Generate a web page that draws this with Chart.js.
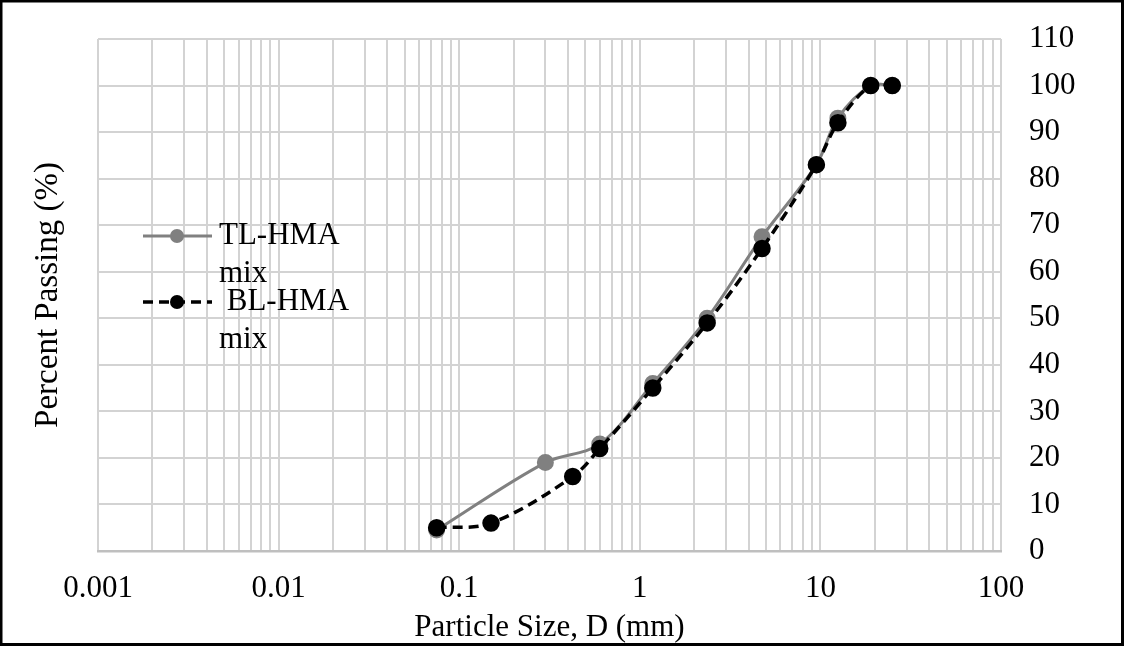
<!DOCTYPE html>
<html>
<head>
<meta charset="utf-8">
<script src="https://cdn.jsdelivr.net/npm/chart.js@4"></script>
<style>
  html, body { margin: 0; padding: 0; background: #fff; }
  #wrap { position: relative; width: 1128px; height: 646px; }
</style>
</head>
<body>
<div id="wrap"><canvas id="chart" width="1128" height="646"></canvas></div>
<script>
// sieve sizes (mm) and percent passing
const sizesTL = [0.075, 0.3, 0.6, 1.18, 2.36, 4.75, 9.5, 12.5, 19, 25];
const passTL  = [4.5, 19, 23, 36, 50, 67.5, 83, 93, 100, 100];
const sizesBL = [0.075, 0.15, 0.425, 0.6, 1.18, 2.36, 4.75, 9.5, 12.5, 19, 25];
const passBL  = [5, 6, 16, 22, 35, 49, 65, 83, 92, 100, 100];

const legendTL = ['TL-HMA', 'mix'];
const legendBL = [' BL-HMA', 'mix'];

const xMin = 0.001, xMax = 100;
const yMin = 0, yMax = 110, yStep = 10;

const FONT = '"Liberation Serif", "Times New Roman", serif';
const FS = 31;

function toPoints(xs, ys) {
    return xs.map((x, i) => ({ x: x, y: ys[i] }));
}

function isPow10(v) {
    const l = Math.log10(v);
    return Math.abs(l - Math.round(l)) < 1e-9;
}

// legend + y title + outer frame
const extras = {
    id: 'extras',
    afterDraw(chart) {
        const ctx = chart.ctx;
        ctx.save();
        ctx.font = FS + 'px ' + FONT;
        ctx.fillStyle = '#000';
        ctx.textBaseline = 'middle';

        // y title on the left
        const area = chart.chartArea;
        ctx.save();
        ctx.font = '33px ' + FONT;
        ctx.translate(48, (area.top + area.bottom) / 2);
        ctx.rotate(-Math.PI / 2);
        ctx.textAlign = 'center';
        ctx.fillText('Percent Passing (%)', 0, 0);
        ctx.restore();

        // legend
        const items = [
            { ds: chart.data.datasets[0], lines: legendTL, y: 236 },
            { ds: chart.data.datasets[1], lines: legendBL, y: 302 }
        ];
        items.forEach(it => {
            const ds = it.ds;
            ctx.save();
            ctx.strokeStyle = ds.borderColor;
            ctx.lineWidth = ds.borderWidth;
            ctx.setLineDash(ds.borderDash || []);
            ctx.beginPath();
            ctx.moveTo(143, it.y);
            ctx.lineTo(212, it.y);
            ctx.stroke();
            ctx.setLineDash([]);
            ctx.fillStyle = ds.pointBackgroundColor;
            ctx.beginPath();
            ctx.arc(177, it.y, ds.pointRadius, 0, Math.PI * 2);
            ctx.fill();
            ctx.restore();
            ctx.textAlign = 'left';
            it.lines.forEach((t, k) => ctx.fillText(t, 219, it.y + k * 38));
        });

        // outer frame
        ctx.fillStyle = '#000';
        ctx.fillRect(0, 0, 2.5, 646);
        ctx.fillRect(0, 0, 1124, 2.5);
        ctx.fillRect(1121, 0, 3, 646);
        ctx.fillRect(0, 643, 1124, 3);
        ctx.restore();
    }
};

const config = {
    type: 'scatter',
    data: {
        datasets: [
            {
                label: legendTL.join(' '),
                data: toPoints(sizesTL, passTL),
                showLine: true,
                borderColor: '#808080',
                backgroundColor: '#808080',
                pointBackgroundColor: '#808080',
                pointBorderColor: '#808080',
                borderWidth: 3,
                pointRadius: 7,
                tension: 0.35,
                order: 1
            },
            {
                label: legendBL.join(' '),
                data: toPoints(sizesBL, passBL),
                showLine: true,
                borderColor: '#000000',
                backgroundColor: '#000000',
                pointBackgroundColor: '#000000',
                pointBorderColor: '#000000',
                borderWidth: 3.5,
                borderDash: [10, 6],
                pointRadius: 7,
                tension: 0.35,
                order: 0
            }
        ]
    },
    options: {
        responsive: false,
        animation: false,
        layout: { padding: { left: 98, top: 39, right: 0, bottom: 0 } },
        plugins: {
            legend: { display: false },
            tooltip: { enabled: false }
        },
        scales: {
            x: {
                type: 'logarithmic',
                position: 'bottom',
                min: xMin,
                max: xMax,
                afterBuildTicks(scale) {
                    const t = [];
                    for (let d = xMin; d < xMax * 0.999; d *= 10) {
                        for (let m = 1; m <= 9; m++) t.push({ value: d * m });
                    }
                    t.push({ value: xMax });
                    scale.ticks = t;
                },
                afterFit(scale) { scale.height = 95; },
                grid: { color: '#d3d3d3', lineWidth: 2, drawTicks: false },
                border: { display: true, color: '#bfbfbf', width: 2.5 },
                ticks: {
                    autoSkip: false,
                    maxRotation: 0,
                    padding: 19,
                    color: '#000',
                    font: { family: FONT, size: FS },
                    callback: v => isPow10(v) ? String(Number(v.toPrecision(6))) : ''
                },
                title: {
                    display: true,
                    text: 'Particle Size, D (mm)',
                    color: '#000',
                    padding: { top: 0, bottom: 0 },
                    font: { family: FONT, size: FS }
                }
            },
            y: {
                position: 'right',
                min: yMin,
                max: yMax,
                afterFit(scale) { scale.width = 127; },
                // invisible tick marks push the labels right without adding top padding
                grid: { color: '#d3d3d3', lineWidth: 2, drawTicks: true, tickLength: 28, tickColor: 'rgba(0,0,0,0)' },
                border: { display: false },
                ticks: {
                    stepSize: yStep,
                    padding: 0,
                    color: '#000',
                    font: { family: FONT, size: FS }
                }
            }
        }
    },
    plugins: [extras]
};

new Chart(document.getElementById('chart').getContext('2d'), config);
</script>
</body>
</html>
